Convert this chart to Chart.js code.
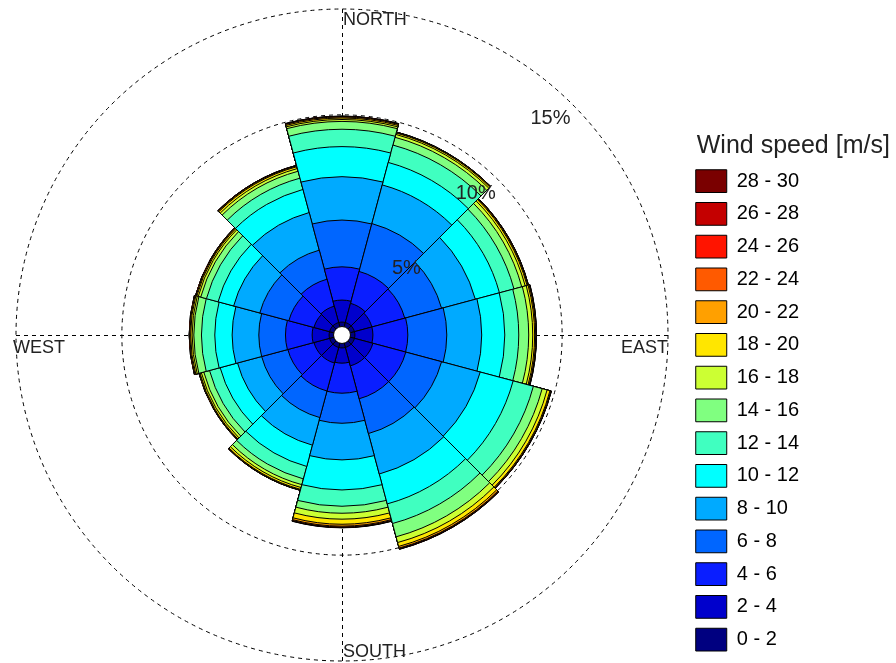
<!DOCTYPE html>
<html>
<head>
<meta charset="utf-8">
<title>Wind rose</title>
<script src="https://cdn.jsdelivr.net/npm/chart.js@4.4.0/dist/chart.umd.min.js"></script>
<style>
  html, body { margin: 0; padding: 0; background: #fff; }
</style>
</head>
<body>
<canvas id="rose" width="896" height="663"></canvas>
<script>
// 12 sectors of 30 degrees, clockwise from north
const directions = ["N", "NNE", "ENE", "E", "ESE", "SSE", "S", "SSW", "WSW", "W", "WNW", "NNW"];
const speedBins = ["0 - 2", "2 - 4", "4 - 6", "6 - 8", "8 - 10", "10 - 12", "12 - 14", "14 - 16",
  "16 - 18", "18 - 20", "20 - 22", "22 - 24", "24 - 26", "26 - 28", "28 - 30"];
const binColors = ["#000080", "#0000cc", "#0a1eff", "#0066ff", "#00aaff", "#00ffff", "#40ffc0", "#80ff80",
  "#ccff33", "#ffe600", "#ffa000", "#ff5a00", "#ff1400", "#c40000", "#7a0000"];
const legendTitle = "Wind speed [m/s]";

// frequency (%) of each speed bin per direction
const s0_2   = [0.21, 0.21, 0.21, 0.21, 0.21, 0.21, 0.21, 0.21, 0.21, 0.21, 0.21, 0.21];
const s2_4   = [1.04, 0.94, 0.85, 0.85, 0.90, 0.90, 0.72, 0.76, 0.76, 0.80, 0.76, 0.80];
const s4_6   = [1.57, 1.56, 1.61, 1.65, 1.61, 1.61, 1.42, 1.37, 1.28, 1.26, 1.23, 1.32];
const s6_8   = [2.21, 2.34, 1.80, 1.84, 1.75, 1.70, 1.42, 1.30, 1.28, 1.26, 1.42, 1.42];
const s8_10  = [2.05, 1.89, 1.65, 1.65, 1.89, 1.98, 1.73, 1.35, 1.18, 1.26, 1.28, 1.84];
const s10_12 = [1.42, 1.10, 1.18, 1.09, 1.61, 1.46, 1.42, 1.04, 0.85, 0.82, 0.76, 1.13];
const s12_14 = [0.82, 0.85, 0.71, 0.66, 0.99, 0.96, 0.77, 0.61, 0.52, 0.63, 0.57, 0.55];
const s14_16 = [0.37, 0.38, 0.38, 0.47, 0.43, 0.65, 0.33, 0.28, 0.28, 0.36, 0.28, 0.34];
const s16_18 = [0.09, 0.14, 0.17, 0.19, 0.24, 0.28, 0.28, 0.14, 0.12, 0.08, 0.12, 0.13];
const s18_20 = [0.07, 0.07, 0.09, 0.09, 0.14, 0.19, 0.24, 0.09, 0.07, 0.07, 0.07, 0.09];
const s20_22 = [0.05, 0.03, 0.04, 0.05, 0.04, 0.08, 0.09, 0.03, 0.03, 0.04, 0.04, 0.04];
const s22_24 = [0.02, 0.01, 0.02, 0.02, 0.02, 0.03, 0.04, 0.01, 0.01, 0.02, 0.02, 0.02];
const s24_26 = [0.01, 0.01, 0.01, 0.01, 0.01, 0.02, 0.02, 0.01, 0.01, 0.01, 0.01, 0.01];
const s26_28 = [0.01, 0.00, 0.00, 0.01, 0.00, 0.01, 0.01, 0.00, 0.00, 0.00, 0.00, 0.00];
const s28_30 = [0.00, 0.00, 0.00, 0.00, 0.00, 0.00, 0.01, 0.00, 0.00, 0.00, 0.00, 0.00];

const ringTicks = [5, 10, 15];
const calmRadius = 0.4; // size of the calm circle in the middle, in %

const series = [s0_2, s2_4, s4_6, s6_8, s8_10, s10_12, s12_14, s14_16,
  s16_18, s18_20, s20_22, s22_24, s24_26, s26_28, s28_30];

// running totals, so every ring starts where the slower one ends
const cumulative = [];
series.forEach((vals, k) => {
  cumulative.push(vals.map((v, i) => (k ? cumulative[k - 1][i] : 0) + v));
});

const datasets = series.map((vals, k) => ({
  label: speedBins[k] + " m/s",
  data: cumulative[k],
  binValues: vals,
  backgroundColor: binColors[k],
  borderColor: "#000",
  borderWidth: 1
}));

const roseDecor = {
  id: "roseDecor",
  beforeDatasetsDraw(chart) {
    const r = chart.scales.r;
    const ctx = chart.ctx;
    const R = r.drawingArea;
    ctx.save();
    ctx.strokeStyle = "#000";
    ctx.lineWidth = 1;
    ctx.setLineDash([4, 4]);
    ctx.beginPath();
    ctx.moveTo(r.xCenter + 0.5, r.yCenter - R);
    ctx.lineTo(r.xCenter + 0.5, r.yCenter + R);
    ctx.moveTo(r.xCenter - R, r.yCenter + 0.5);
    ctx.lineTo(r.xCenter + R, r.yCenter + 0.5);
    ctx.stroke();
    ctx.restore();
  },
  afterDatasetsDraw(chart) {
    const r = chart.scales.r;
    const ctx = chart.ctx;
    const R = r.drawingArea;
    const cx = r.xCenter, cy = r.yCenter;
    ctx.save();

    // calm circle
    ctx.beginPath();
    ctx.arc(cx, cy, r.getDistanceFromCenterForValue(0), 0, Math.PI * 2);
    ctx.fillStyle = "#fff";
    ctx.fill();
    ctx.strokeStyle = "#000";
    ctx.lineWidth = 1;
    ctx.stroke();

    // percent labels on the NE diagonal
    ctx.fillStyle = "#222";
    ctx.font = "20px 'Liberation Sans', Arial, sans-serif";
    ctx.textAlign = "right";
    ctx.textBaseline = "top";
    ringTicks.forEach(t => {
      const d = r.getDistanceFromCenterForValue(t) * Math.SQRT1_2;
      ctx.fillText(t + "%", cx + d - 2, cy - d + 4);
    });

    // compass names
    ctx.font = "18px 'Liberation Sans', Arial, sans-serif";
    ctx.textAlign = "left";
    ctx.textBaseline = "top";
    ctx.fillText("NORTH", cx + 1, cy - R + 2);
    ctx.fillText("WEST", cx - R - 3, cy + 4);
    ctx.textAlign = "right";
    ctx.fillText("EAST", cx + R, cy + 4);
    ctx.textAlign = "left";
    ctx.textBaseline = "bottom";
    ctx.fillText("SOUTH", cx + 1, cy + R);
    ctx.restore();
  },
  afterDraw(chart) {
    // legend heading, wider than the legend box so drawn here
    const first = chart.legend.legendHitBoxes[0];
    if (!first) return;
    const ctx = chart.ctx;
    ctx.save();
    ctx.fillStyle = "#222";
    ctx.font = "25px 'Liberation Sans', Arial, sans-serif";
    ctx.textAlign = "left";
    ctx.textBaseline = "middle";
    ctx.fillText(legendTitle, first.left + 1, first.top - 24);
    ctx.restore();
  }
};

Chart.defaults.font.family = "'Liberation Sans', Arial, sans-serif";

const ctx = document.getElementById("rose").getContext("2d");
window.rose = new Chart(ctx, {
  type: "polarArea",
  data: { labels: directions, datasets: datasets },
  plugins: [roseDecor],
  options: {
    responsive: false,
    animation: false,
    layout: { padding: { left: -5, right: 87, top: 9, bottom: 2 } },
    scales: {
      r: {
        startAngle: -15,
        min: -calmRadius,
        max: 15,
        beginAtZero: false,
        ticks: { display: false, stepSize: 5 },
        grid: { color: "#000", lineWidth: 1, circular: true },
        border: { dash: [4, 4] },
        angleLines: { display: false },
        pointLabels: { display: false }
      }
    },
    plugins: {
      legend: {
        position: "right",
        align: "end",
        onClick: () => {},
        labels: {
          boxWidth: 31,
          boxHeight: 22.75,
          padding: 10,
          color: "#222",
          font: { size: 20 },
          generateLabels: (chart) => chart.data.datasets.map((ds, i) => ({
            text: speedBins[i],
            fillStyle: ds.backgroundColor,
            strokeStyle: "#000",
            lineWidth: 1,
            hidden: false,
            datasetIndex: i
          })).reverse()
        }
      },
      tooltip: {
        callbacks: {
          label: (c) => c.dataset.label + ": " + c.dataset.binValues[c.dataIndex] + "%"
        }
      }
    }
  }
});
</script>
</body>
</html>
